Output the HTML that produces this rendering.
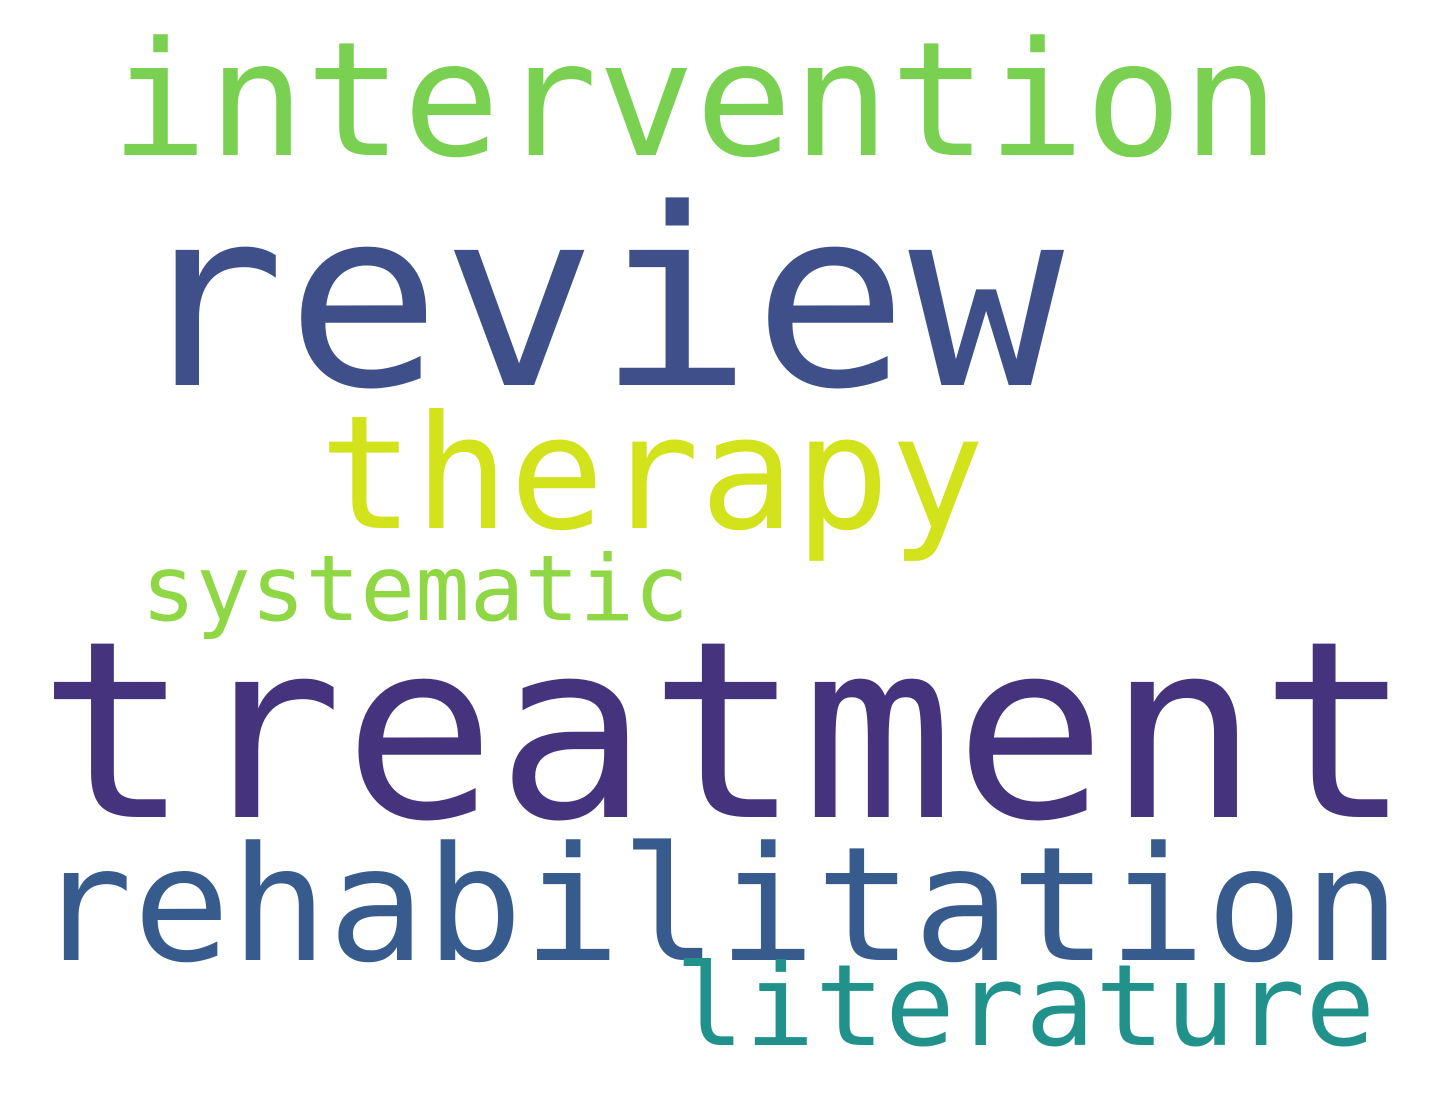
<!DOCTYPE html>
<html><head><meta charset="utf-8"><style>
html,body{margin:0;padding:0;background:#fff;}
svg{display:block;}
text{font-family:"DejaVu Sans Mono","Liberation Mono",monospace;}
</style></head><body>
<svg id="cloud" width="1455" height="1106" viewBox="0 0 1455 1106" xmlns="http://www.w3.org/2000/svg">
<rect width="1455" height="1106" fill="#ffffff"/>
</svg>
<script>
const words = ["treatment","review","intervention","rehabilitation","therapy","literature","systematic"];
const weights = [247,247,159,159,158,113,91];
const colors = ["#46337e","#3e4f8a","#7ad151","#375b8d","#d2e21b","#21918c","#8fd744"];
const layoutCx = [725,597,695,718,652,1025,415];
const layoutBase = [817,385,155,960,528,1045,620];
const layoutStretch = [1.027,1.047,1.018,1.019,1.0,1.03,1.0];
const svg = document.getElementById('cloud');
for (let i = 0; i < words.length; i++) {
  const t = document.createElementNS('http://www.w3.org/2000/svg','text');
  t.setAttribute('x', layoutCx[i]);
  t.setAttribute('y', layoutBase[i]);
  t.setAttribute('text-anchor','middle');
  t.setAttribute('font-size', weights[i]);
  t.setAttribute('fill', colors[i]);
  t.setAttribute('textLength', (words[i].length * 0.602 * weights[i] * layoutStretch[i]).toFixed(1));
  t.setAttribute('lengthAdjust','spacingAndGlyphs');
  t.textContent = words[i];
  
  
  svg.appendChild(t);
}
</script>
</body></html>
